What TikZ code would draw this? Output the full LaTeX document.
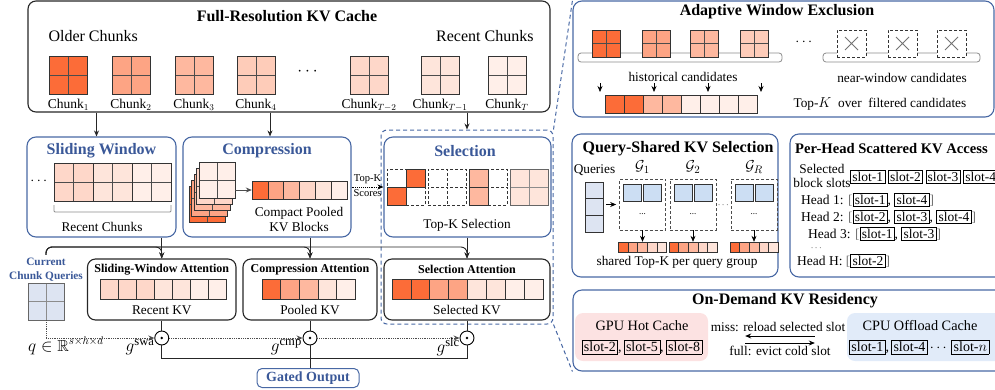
\documentclass[tikz,border=0pt]{standalone}
\usepackage{fontspec}
\setmainfont{Liberation Serif}
\usepackage{amsmath}
\usepackage{amssymb}
\usetikzlibrary{arrows.meta, positioning, calc}

\definecolor{kvorange}{RGB}{252,108,56}
\colorlet{kvA}{kvorange}
\colorlet{kvB}{kvorange!62!white}
\colorlet{kvC}{kvorange!48!white}
\colorlet{kvD}{kvorange!35!white}
\colorlet{kvE}{kvorange!27!white}
\colorlet{kvF}{kvorange!18!white}
\colorlet{kvG}{kvorange!11!white}
\definecolor{boxblue}{RGB}{72,104,164}
\definecolor{titleblue}{RGB}{58,88,152}
\definecolor{qblue}{RGB}{221,228,242}
\definecolor{gblue}{RGB}{204,222,243}
\definecolor{hotpink}{RGB}{252,226,226}
\definecolor{coldblue}{RGB}{225,235,249}

\newcommand{\slotbox}[1]{{\setlength{\fboxsep}{1.6pt}\setlength{\fboxrule}{0.6pt}\fbox{slot-#1}}}
\newcommand{\lbr}{{\color{black!55}[}}
\newcommand{\rbr}{{\color{black!55}]}}

\begin{document}
\begin{tikzpicture}[
    x=1pt, y=-1pt,
    >={Stealth[length=6pt,width=5pt]},
    font=\fontsize{13.3}{15}\selectfont,
    cachebox/.style = {draw=black!85, line width=1.1pt, rounded corners=8pt, inner sep=0pt},
    modbox/.style = {draw=boxblue, line width=1.1pt, rounded corners=9pt, inner sep=0pt},
    hugetitle/.style = {font=\fontsize{16}{18}\selectfont\bfseries},
    bluetitle/.style = {hugetitle, text=titleblue},
    smalltitle/.style = {font=\fontsize{12}{14}\selectfont\bfseries},
    kvchunk/.style = {
        draw=black!80, line width=0.8pt, fill=#1, inner sep=0pt, minimum size=38pt,
        path picture={\draw[black!70, line width=0.9pt]
            (path picture bounding box.north) -- (path picture bounding box.south)
            (path picture bounding box.west) -- (path picture bounding box.east);}
    },
    softchunk/.style = {
        draw=black!60, line width=0.8pt, fill=#1, inner sep=0pt,
        path picture={\draw[black!45, line width=0.9pt]
            (path picture bounding box.north) -- (path picture bounding box.south)
            (path picture bounding box.west) -- (path picture bounding box.east);}
    },
    kvcell/.style = {draw=black!80, line width=0.6pt, fill=#1, inner sep=0pt},
    ghostcell/.style = {draw=black!80, densely dashed, line width=0.6pt, fill=white,
        inner sep=0pt, minimum width=19pt, minimum height=18pt},
    gate/.style = {circle, draw=black, line width=0.9pt, fill=white, minimum size=14pt, inner sep=0pt},
    wire/.style = {line width=0.9pt, black!85},
    qwire/.style = {->, densely dotted, line width=0.8pt, black!70},
    grpbracket/.style = {draw=black!45, line width=0.8pt, rounded corners=3pt},
    linkdash/.style = {draw=boxblue, line width=1pt, dash pattern=on 4pt off 3pt},
    gatelab/.style = {font=\fontsize{18}{20}\selectfont, inner sep=0pt, anchor=east},
    headrow/.style = {anchor=west, inner sep=0pt, font=\fontsize{13.5}{15}\selectfont}
]
\useasboundingbox (0,0) rectangle (995,389);

% full-resolution cache
\node[cachebox, minimum width=522pt, minimum height=111pt] (cache) at (289,56.5) {};
\node[hugetitle] (cachetitle) at (287,16) {Full-Resolution KV Cache};
\node[font=\fontsize{16}{18}\selectfont, anchor=west] (older) at (45,36) {Older Chunks};
\node[font=\fontsize{16}{18}\selectfont, anchor=east] (recent) at (537,36) {Recent Chunks};
\foreach \x/\c/\n/\s in {68.5/kvA/1/1, 131/kvB/2/2, 194/kvC/3/3, 256/kvD/4/4,
                         369/kvE/5/T-2, 440/kvF/6/T-1, 507/kvG/7/T} {
    \node[kvchunk=\c] (chunk\n) at (\x,75) {};
    \node[font=\fontsize{13.5}{15}\selectfont] (chunklab\n) at (\x,105) {Chunk$_{\s}$};
}
\node[font=\fontsize{16}{18}\selectfont] (cdots) at (309,72) {$\cdots$};

% three branches
\node[modbox, minimum width=149pt, minimum height=100pt] (sw) at (101.5,187) {};
\node[modbox, minimum width=168pt, minimum height=100pt] (comp) at (267,187) {};
\node[modbox, minimum width=167pt, minimum height=100pt] (sel) at (467.5,187) {};
\node[linkdash, rounded corners=6pt, minimum width=172pt, minimum height=194pt, inner sep=0pt] (selgroup) at (467,227) {};
\node[bluetitle] (swtitle) at (101.5,151) {Sliding Window};
\node[bluetitle] (comptitle) at (267,151) {Compression};
\node[bluetitle] (seltitle) at (465,151) {Selection};

\coordinate (swin) at ([xshift=-5pt]sw.north);
\coordinate (compin) at ([xshift=3pt]comp.north);
\draw[->, wire] (swin |- cache.south) -- (swin);
\draw[->, wire] (compin |- cache.south) -- (compin);
\draw[->, wire] (selgroup.north |- cache.south) -- (selgroup.north);

% sliding window
\foreach \c [count=\i] in {kvE,kvF,kvG}
    \node[kvchunk=\c, minimum width=39pt, minimum height=38pt] (swchunk\i) at (54+39*\i-19.5,182) {};
\node (swdots) at (40,181) {$\cdots$};
\draw[grpbracket, rounded corners=1pt] (54,205) -- (54,212) -- (171,212) -- (171,205);
\node (swlab) at (102,227) {Recent Chunks};

% compression
\foreach \k/\c in {4/kvA,3/kvB,2/kvC,1/kvE}
    \node[kvchunk=\c, minimum size=36pt] (layer\k) at (217-2.5*\k,180+6*\k) {};
\node[kvchunk=kvG, minimum size=36pt] (front) at (217,180) {};
\node[inner sep=0pt, minimum width=95pt, minimum height=18pt] (pooled) at (299.5,190) {};
\foreach \c [count=\i] in {kvA,kvB,kvC,kvE,kvF,kvG}
    \node[kvcell=\c, minimum width=15.83pt, minimum height=18pt] (pool\i) at (252+15.83*\i-7.92,190) {};
\draw[->, line width=0.9pt, black!70] (front.east |- pooled.west) -- (pooled.west);
\node[align=center] (pooledlab) at (299,219) {Compact Pooled\\KV Blocks};

\draw[->, densely dotted, line width=0.9pt] (comp.east) --
    node[above=1.5pt, font=\fontsize{10.5}{12}\selectfont, inner sep=1pt] (topklab) {Top-K}
    node[below=1.5pt, font=\fontsize{10.5}{12}\selectfont, inner sep=1pt] (scorelab) {Scores} (sel.west);

% selection
\foreach \b [count=\bi] in {387,428,469}
    \foreach \dx [count=\ci] in {9.5,28.5}
        \foreach \y [count=\ri] in {178,196}
            \node[ghostcell] (ghost\bi\ci\ri) at (\b+\dx,\y) {};
\node[kvcell=kvA, line width=0.9pt, minimum width=19pt, minimum height=18pt] (hitA1) at (415.5,178) {};
\node[kvcell=kvA, line width=0.9pt, minimum width=19pt, minimum height=18pt] (hitA2) at (396.5,196) {};
\node[kvcell=kvC, line width=0.9pt, minimum width=19pt, minimum height=18pt] (hitC1) at (478.5,178) {};
\node[kvcell=kvC, line width=0.9pt, minimum width=19pt, minimum height=18pt] (hitC2) at (478.5,196) {};
\node[softchunk=kvF, minimum width=38pt, minimum height=36pt] (selchunk) at (529,187) {};
\node (sellab) at (467,225) {Top-K Selection};

% attention branches
\node[cachebox, minimum width=148.5pt, minimum height=61pt] (swa) at (161.75,289.5) {};
\node[cachebox, minimum width=134pt, minimum height=61pt] (ca) at (310,289.5) {};
\node[cachebox, minimum width=166pt, minimum height=61pt] (sela) at (467,289.5) {};
\node[smalltitle] (swatitle) at (161.75,269.5) {Sliding-Window Attention};
\node[smalltitle] (catitle) at (310,269.5) {Compression Attention};
\node[smalltitle] (selatitle) at (467,269.5) {Selection Attention};
\foreach \c [count=\i] in {kvE,kvE,kvE,kvF,kvF,kvG,kvG}
    \node[kvcell=\c, minimum width=18pt, minimum height=20pt] (swacell\i) at (100+18*\i-9,289) {};
\foreach \c [count=\i] in {kvA,kvB,kvC,kvF,kvG}
    \node[kvcell=\c, minimum width=18.6pt, minimum height=20pt] (cacell\i) at (262+18.6*\i-9.3,289) {};
\foreach \c [count=\i] in {kvA,kvA,kvB,kvB,kvF,kvF,kvG,kvG}
    \node[kvcell=\c, minimum width=18.875pt, minimum height=20pt] (selacell\i) at (392+18.875*\i-9.44,289) {};
\node (swalab) at (161.75,310) {Recent KV};
\node (calab) at (310,310) {Pooled KV};
\node (selalab) at (467,310) {Selected KV};

\draw[->, wire] (sw.south -| swa.north) -- (swa.north);
\draw[->, wire] (comp.south -| ca.north) -- (ca.north);
\draw[->, wire] (sel.south -| sela.north) -- (sela.north);

% current queries
\node[font=\fontsize{11.3}{14}\selectfont\bfseries, text=titleblue, align=center] (curq) at (46,270) {Current\\Chunk Queries};
\coordinate (qbus) at (46,247);
\foreach \t in {swa,ca,sela}
    \draw[->, wire, rounded corners=6pt] (curq.north) -- (curq.north |- qbus) -- (qbus -| \t.north) -- (\t.north);
\node[softchunk=qblue, minimum width=36pt, minimum height=37pt] (qsq) at (46,301.5) {};
\node[font=\fontsize{16}{18}\selectfont, anchor=west, inner sep=0pt] (qdim) at (28,346) {$q \in \mathbb{R}^{s\times h\times d}$};

% gates
\coordinate (gy) at (0,338);
\coordinate (bus) at (0,358);
\node[gate] (g1) at (swa.south |- gy) {};
\node[gate] (g2) at (ca.south |- gy) {};
\node[gate] (g3) at (sela.south |- gy) {};
\foreach \g in {g1,g2,g3} \fill (\g) circle (1.3pt);
\draw[wire] (swa.south) -- (g1.north);
\draw[wire] (ca.south) -- (g2.north);
\draw[wire] (sela.south) -- (g3.north);
\draw[qwire] (qsq.south) |- (g1.west);
\draw[qwire] (g1.east) -- (g2.west);
\draw[qwire] (g2.east) -- (g3.west);
\node[gatelab] (gswa) at ($(g1)+(-7,9)$) {$g^{\mathrm{swa}}$};
\node[gatelab] (gcmp) at ($(g2)+(-8,9)$) {$g^{\mathrm{cmp}}$};
\node[gatelab] (gslc) at ($(g3)+(-7,9)$) {$g^{\mathrm{slc}}$};
\node[draw=boxblue, line width=1pt, rounded corners=5pt, minimum width=102pt, minimum height=19pt,
      inner sep=0pt, font=\fontsize{14}{16}\selectfont\bfseries, text=titleblue] (gated) at (308,378) {Gated Output};
\draw[wire] (g1.south) |- (g3.south |- bus) -- (g3.south);
\draw[wire] (g2.south) -- (g2.south |- gated.north);

% right-hand panels
\node[modbox, minimum width=421pt, minimum height=116pt] (awe) at (783.5,59) {};
\node[modbox, minimum width=206pt, minimum height=143pt] (qs) at (675,205.5) {};
\node[modbox, minimum width=215pt, minimum height=143pt] (ph) at (897.5,205.5) {};
\node[modbox, minimum width=432pt, minimum height=81pt] (od) at (789,330.5) {};
\draw[linkdash] (selgroup.north east) -- (awe.north west);
\draw[linkdash] (selgroup.south east) -- (od.south west);

% adaptive window exclusion
\node[hugetitle] (awetitle) at (777,12) {Adaptive Window Exclusion};
\draw[grpbracket] (578,53) rectangle (782,62);
\draw[grpbracket] (823,53) rectangle (980,62);
\foreach \x/\c [count=\i] in {606/kvA,656/kvB,704/kvC,754/kvD}
    \node[kvchunk=\c, minimum width=28pt, minimum height=27pt] (hist\i) at (\x,43.5) {};
\node (awedots) at (805,42) {$\cdots$};
\foreach \x [count=\i] in {851.5,902.5,951.5} {
    \node[draw=black!80, densely dashed, line width=0.7pt, fill=white, minimum width=29pt, minimum height=27pt, inner sep=0pt] (near\i) at (\x,43.5) {};
    \draw[black!55, line width=0.9pt] ($(near\i)+(-6.5,-6.5)$) -- ($(near\i)+(6.5,6.5)$)
                                      ($(near\i)+(-6.5,6.5)$) -- ($(near\i)+(6.5,-6.5)$);
}
\node (histlab) at (683,77) {historical candidates};
\node (nearlab) at (902,78) {near-window candidates};
\foreach \x in {600,654,708,761} \draw[->, line width=0.7pt] (\x,83) -- (\x,92);
\foreach \c [count=\i] in {kvA,kvA,kvC,kvC,kvG,kvG,kvG,kvG}
    \node[kvcell=\c, minimum width=19pt, minimum height=18pt] (topk\i) at (605+19*\i-9.5,104) {};
\node[anchor=west] (filtlab) at (790,104) {Top-$K$\ \ over\ \ filtered candidates};

% query-shared selection
\node[hugetitle] (qstitle) at (678,149) {Query-Shared KV Selection};
\node (qlab) at (594.5,170) {Queries};
\node[inner sep=0pt, minimum width=18pt, minimum height=50pt] (qcol) at (594,207) {};
\foreach \i in {1,2,3}
    \node[kvcell=qblue, line width=0.9pt, minimum width=18pt, minimum height=16.67pt] (qcell\i) at (594,182+16.67*\i-8.33) {};
\foreach \x/\gl [count=\i] in {642.5/1,693/2,754/R} {
    \node[draw=black!70, dash pattern=on 3pt off 2pt, line width=0.7pt, minimum width=46pt, minimum height=51pt, inner sep=0pt] (grp\i) at (\x,204.5) {};
    \node[font=\fontsize{15}{17}\selectfont] (glab\i) at (\x,167) {$\mathcal{G}_{\gl}$};
    \node[kvcell=gblue, line width=0.9pt, minimum width=18pt, minimum height=17pt] (gqa\i) at (\x-10,192.5) {};
    \node[kvcell=gblue, line width=0.9pt, minimum width=18pt, minimum height=17pt] (gqb\i) at (\x+10,192.5) {};
    \node[font=\fontsize{9}{10}\selectfont] (gdots\i) at (\x,214) {...};
    \node[inner sep=0pt, minimum width=48pt, minimum height=10pt] (gbar\i) at (\x,247) {};
    \foreach \c [count=\j] in {kvA,kvB,kvC,kvE,kvF}
        \node[kvcell=\c, minimum width=9.6pt, minimum height=10pt] (gcell\i\j) at (\x-24+9.6*\j-4.8,247) {};
    \draw[->, line width=0.7pt] (grp\i.south) -- (gbar\i.north);
}
\draw[->, line width=0.8pt, shorten <=3pt, shorten >=3pt] (qcol.east |- grp1.west) -- (grp1.west);
\node[font=\fontsize{9}{10}\selectfont] (grpdots) at (724,205) {$\cdots$};
\node (qsfoot) at (677,262) {shared Top-K per query group};

% per-head scattered access
\node[font=\fontsize{14.6}{18}\selectfont\bfseries, anchor=west, inner sep=0pt] (phtitle) at (795,149) {Per-Head Scattered KV Access};
\node[align=center, font=\fontsize{13.3}{14}\selectfont] (blocklab) at (822,176) {Selected\\block slots};
\node[headrow] (slotrow) at (850,177)
    {\slotbox{1}\hspace{2.5pt}\slotbox{2}\hspace{2.5pt}\slotbox{3}\hspace{2.5pt}\slotbox{4}};
\node[headrow] (head1) at (801,200) {Head 1: \lbr\slotbox{1}, \slotbox{4}\rbr};
\node[headrow] (head2) at (801,217) {Head 2: \lbr\slotbox{2}, \slotbox{3}, \slotbox{4}\rbr};
\node[headrow] (head3) at (808,234) {Head 3: \lbr\slotbox{1}, \slotbox{3}\rbr};
\node[font=\fontsize{9}{10}\selectfont, inner sep=0pt] (headdots) at (817,248) {$\cdots$};
\node[headrow] (headH) at (797,261) {Head H: \lbr\slotbox{2}\rbr};

% on-demand residency
\node[hugetitle] (odtitle) at (785,301) {On-Demand KV Residency};
\node[fill=hotpink, rounded corners=8pt, minimum width=133pt, minimum height=48pt, inner sep=0pt] (gpu) at (641.5,337) {};
\node[fill=coldblue, rounded corners=8pt, minimum width=160pt, minimum height=48pt, inner sep=0pt] (cpu) at (927,337) {};
\node[font=\fontsize{14.3}{16}\selectfont] (gpulab) at (642,326) {GPU Hot Cache};
\node[font=\fontsize{14}{16}\selectfont] (gpuslots) at (642,347) {\slotbox{2},\,\slotbox{5},\,\slotbox{8}};
\node[font=\fontsize{14.3}{16}\selectfont] (cpulab) at (920,326) {CPU Offload Cache};
\node[anchor=west, inner sep=0pt, font=\fontsize{14}{16}\selectfont] (cpuslots) at (849,347) {\slotbox{1},\,\slotbox{4}\,$\cdots$\,\slotbox{$n$}};
\node (misslab) at (778,327) {miss: reload selected slot};
\node (fulllab) at (780,351) {full: evict cold slot};
\draw[->, line width=0.8pt, shorten <=32pt, shorten >=37pt] ([yshift=1pt]cpu.west) -- ([yshift=1pt]gpu.east);
\draw[->, line width=0.8pt, shorten <=37pt, shorten >=32pt] ([yshift=-6pt]gpu.east) -- ([yshift=-6pt]cpu.west);

\end{tikzpicture}
\end{document}
